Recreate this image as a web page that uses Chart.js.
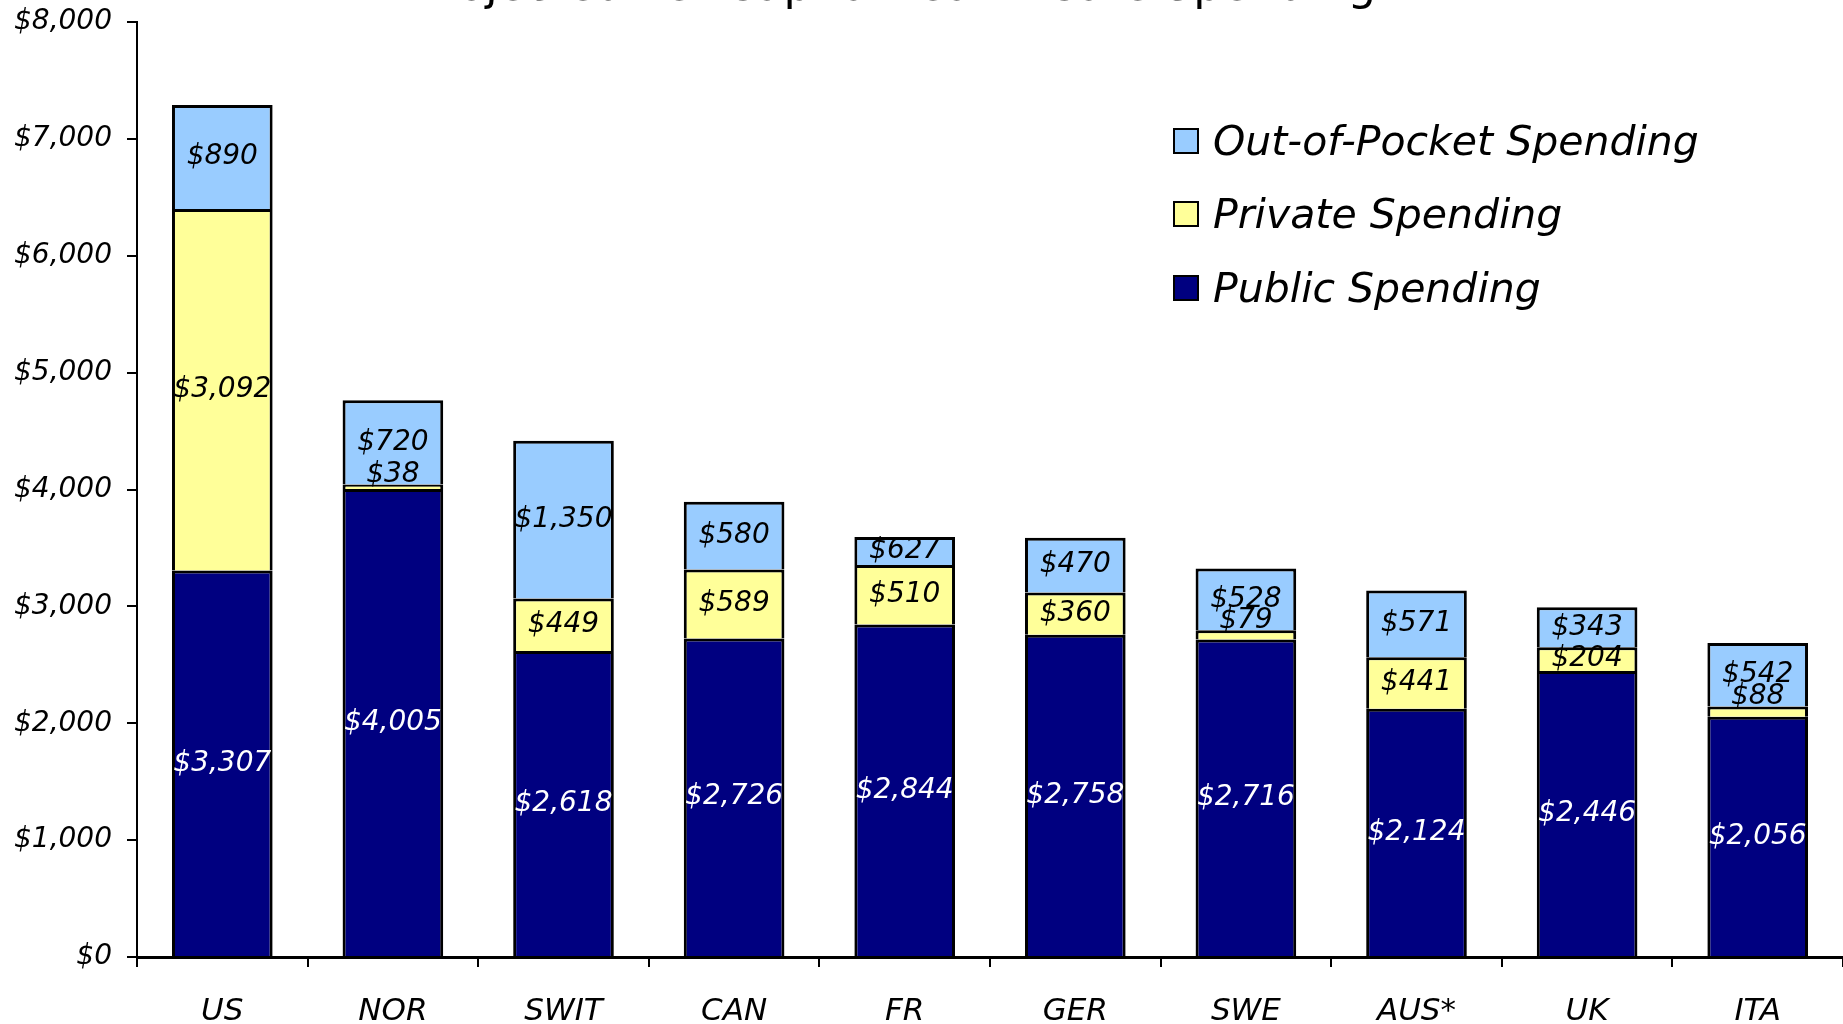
<!DOCTYPE html>
<html>
<head>
<meta charset="utf-8">
<script src="https://cdn.jsdelivr.net/npm/chart.js@4.4.0/dist/chart.umd.min.js"></script>
<style>
  html, body { margin: 0; padding: 0; background: #fff; }
  #wrap { position: relative; width: 1843px; height: 1024px; overflow: hidden; }
  #grafico { display: block; }
  #legenda { position: absolute; left: 1173px; top: 104px; font-family: "DejaVu Sans"; font-style: italic; font-size: 41px; color: #000; }
  .item { display: flex; align-items: center; height: 73.5px; white-space: nowrap; }
  .caixa { width: 22px; height: 22px; border: 2px solid #000; margin-right: 14px; }
</style>
</head>
<body>
<div id="wrap">
  <canvas id="grafico" width="1843" height="1024"></canvas>
  <div id="legenda">
    <div class="item"><span class="caixa" style="background:#99CCFF"></span>Out-of-Pocket Spending</div>
    <div class="item"><span class="caixa" style="background:#FFFF99"></span>Private Spending</div>
    <div class="item"><span class="caixa" style="background:#000080"></span>Public Spending</div>
  </div>
</div>
<script>
// valores
const paises = ['US', 'NOR', 'SWIT', 'CAN', 'FR', 'GER', 'SWE', 'AUS*', 'UK', 'ITA'];
const publico = [3307, 4005, 2618, 2726, 2844, 2758, 2716, 2124, 2446, 2056];
const privado = [3092, 38, 449, 589, 510, 360, 79, 441, 204, 88];
// altura desenhada do segmento (FR aparece mais curto que o rotulo)
const doBolso = [890, 720, 1350, 580, 240, 470, 528, 571, 343, 542];
const rotulosBolso = [890, 720, 1350, 580, 627, 470, 528, 571, 343, 542];
const ticksY = [0, 1000, 2000, 3000, 4000, 5000, 6000, 7000, 8000];

const titulo = 'Projected Per Capita Health Care Spending';

function dinheiro(v) {
  return '$' + v.toLocaleString('en-US');
}

// titulo cortado no topo
const pluginTitulo = {
  id: 'titulo',
  afterDraw(chart) {
    const ctx = chart.ctx;
    ctx.save();
    ctx.font = '45px "DejaVu Sans"';
    ctx.fillStyle = '#000';
    ctx.textAlign = 'center';
    ctx.textBaseline = 'alphabetic';
    ctx.fillText(titulo, 895, 0);
    ctx.restore();
  }
};

// rotulos dentro dos segmentos
const pluginRotulos = {
  id: 'rotulos',
  afterDatasetsDraw(chart) {
    const ctx = chart.ctx;
    ctx.save();
    ctx.font = 'italic 28px "DejaVu Sans"';
    ctx.textAlign = 'center';
    ctx.textBaseline = 'middle';
    chart.data.datasets.forEach((ds, i) => {
      const meta = chart.getDatasetMeta(i);
      meta.data.forEach((bar, j) => {
        const alto = bar.base - bar.y;
        let y = (bar.y + bar.base) / 2;
        if (alto < 15) y = bar.y - 10;
        ctx.fillStyle = i === 0 ? '#fff' : '#000';
        ctx.fillText(dinheiro(ds.rotulos[j]), bar.x, y);
      });
    });
    ctx.restore();
  }
};

const content = document.getElementById('grafico');
new Chart(content, {
  type: 'bar',
  data: {
    labels: paises,
    datasets: [
      {
        label: 'Public Spending',
        data: publico,
        rotulos: publico,
        backgroundColor: '#000080'
      },
      {
        label: 'Private Spending',
        data: privado,
        rotulos: privado,
        backgroundColor: '#FFFF99'
      },
      {
        label: 'Out-of-Pocket Spending',
        data: doBolso,
        rotulos: rotulosBolso,
        backgroundColor: '#99CCFF'
      }
    ]
  },
  options: {
    responsive: false,
    animation: false,
    layout: { padding: { top: 22, left: 0, right: 0, bottom: 0 } },
    datasets: {
      bar: {
        borderColor: '#000',
        borderWidth: { top: 3, left: 3, right: 3, bottom: 0 },
        borderSkipped: false,
        barPercentage: 0.59,
        categoryPercentage: 1
      }
    },
    plugins: {
      legend: { display: false },
      tooltip: { enabled: false }
    },
    scales: {
      x: {
        stacked: true,
        afterFit(scale) { scale.height = 67; },
        grid: { offset: true, drawOnChartArea: false, tickLength: 10, color: '#000', lineWidth: 2 },
        border: { color: '#000', width: 3 },
        ticks: {
          color: '#000',
          padding: 26,
          font: { family: 'DejaVu Sans', size: 31, style: 'italic' }
        }
      },
      y: {
        stacked: true,
        min: 0,
        max: 8000,
        afterFit(scale) {
          scale.width = 137;
          scale.paddingTop = 0;
          scale.paddingBottom = 0;
        },
        afterBuildTicks(scale) { scale.ticks = ticksY.map(v => ({ value: v })); },
        grid: { drawOnChartArea: false, tickLength: 10, color: '#000', lineWidth: 2 },
        border: { color: '#000', width: 2 },
        ticks: {
          color: '#000',
          padding: 15,
          font: { family: 'DejaVu Sans', size: 28, style: 'italic' },
          callback: v => dinheiro(v)
        }
      }
    }
  },
  plugins: [pluginTitulo, pluginRotulos]
});
</script>
</body>
</html>
